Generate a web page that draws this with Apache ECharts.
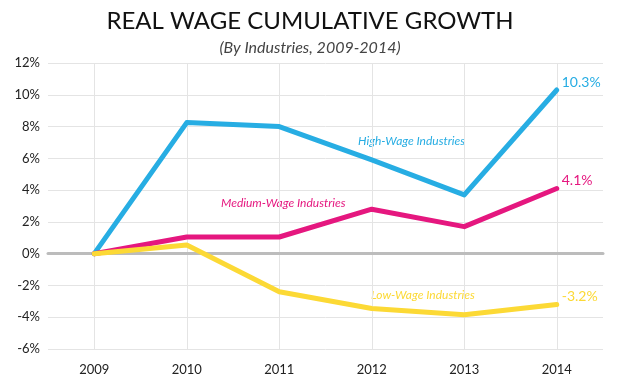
<!DOCTYPE html>
<html><head><meta charset="utf-8">
<script src="https://cdn.jsdelivr.net/npm/echarts@6/dist/echarts.min.js"></script>
<style>html,body{margin:0;padding:0;background:#fff}#c{width:620px;height:385px}</style>
</head><body><div id="c"></div>
<script>
const years = ['2009','2010','2011','2012','2013','2014'];
const highWage = [0, 8.25, 8.0, 5.9, 3.7, 10.3];
const mediumWage = [0, 1.05, 1.05, 2.8, 1.7, 4.1];
const lowWage = [0, 0.55, -2.4, -3.45, -3.85, -3.2];
const yTicks = {min: -6, max: 12, interval: 2};
const FONT = 'Lato, "Open Sans", sans-serif';
const C_HIGH = '#27ADE3', C_MED = '#E5177F', C_LOW = '#FCD935';

const chart = echarts.init(document.getElementById('c'));
function line(name, data, color) {
  return {
    name, type: 'line', data, symbol: 'none', smooth: false,
    lineStyle: {color, width: 5, cap: 'round', join: 'round'},
    itemStyle: {color},
    endLabel: {show: true, formatter: p => p.value + '%', color, fontFamily: FONT, fontSize: 14, distance: 5, offset: [0, -8]},
    z: name === 'Low' ? 3 : 2
  };
}
chart.setOption({
  animation: false,
  title: [
    {text: 'REAL WAGE CUMULATIVE GROWTH', left: 'center', top: 4, textStyle: {fontFamily: FONT, fontSize: 24, fontWeight: 'normal', color: '#111'}},
    {text: '(By Industries, 2009-2014)', left: 'center', top: 35, textStyle: {fontFamily: FONT, fontSize: 16, fontStyle: 'italic', fontWeight: 'normal', color: '#444'}}
  ],
  grid: {left: 48, right: 17, top: 63, bottom: 36},
  xAxis: {
    type: 'category', data: years, boundaryGap: true,
    axisLine: {show: true, onZero: true, lineStyle: {color: '#bcbcbc', width: 3}},
    axisTick: {show: false, alignWithLabel: true},
    splitLine: {show: true, alignWithLabel: true, lineStyle: {color: '#e4e4e4', width: 1}},
    axisLabel: {fontFamily: FONT, fontSize: 13, color: '#222', margin: 14}
  },
  yAxis: {
    type: 'value', min: yTicks.min, max: yTicks.max, interval: yTicks.interval,
    axisLine: {show: false}, axisTick: {show: false},
    splitLine: {lineStyle: {color: '#e4e4e4', width: 1}},
    axisLabel: {formatter: '{value}%', fontFamily: FONT, fontSize: 13, color: '#222', margin: 8}
  },
  series: [line('High', highWage, C_HIGH), line('Medium', mediumWage, C_MED), line('Low', lowWage, C_LOW)],
  graphic: [
    {type: 'text', left: 358, top: 135, style: {text: 'High-Wage Industries', fill: C_HIGH, font: 'italic 12px ' + FONT}},
    {type: 'text', left: 221, top: 197, style: {text: 'Medium-Wage Industries', fill: C_MED, font: 'italic 12px ' + FONT}},
    {type: 'text', left: 371, top: 289, style: {text: 'Low-Wage Industries', fill: C_LOW, font: 'italic 12px ' + FONT}}
  ]
});
</script></body></html>
